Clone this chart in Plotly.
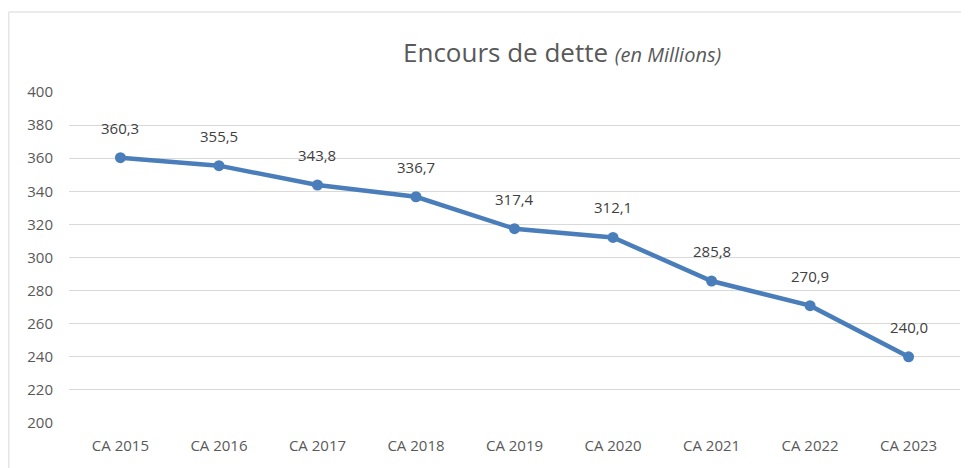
import plotly.graph_objects as go

years = ["CA 2015", "CA 2016", "CA 2017", "CA 2018", "CA 2019",
         "CA 2020", "CA 2021", "CA 2022", "CA 2023"]
encours = [360.3, 355.5, 343.8, 336.7, 317.4, 312.1, 285.8, 270.9, 240.0]
labels = [f"{v:.1f}".replace(".", ",") for v in encours]

line_color = "#4a7ebb"
text_color = "#595959"
font_family = "Open Sans, Liberation Sans, sans-serif"

fig = go.Figure()
fig.add_trace(go.Scatter(
    x=years, y=encours,
    mode="lines+markers",
    line=dict(color=line_color, width=4.5),
    marker=dict(color=line_color, size=11),
    hoverinfo="x+y",
    showlegend=False,
))

# data labels above each point
for x, y, t in zip(years, encours, labels):
    fig.add_annotation(x=x, y=y, text=t, showarrow=False, yshift=30,
                       font=dict(size=15, color="#404040", family=font_family))

# chart frame
fig.add_shape(type="rect", xref="paper", yref="paper",
              x0=-0.0675, x1=1.5, y0=-0.5, y1=1.2417,
              line=dict(color="#d9d9d9", width=1), fillcolor="rgba(0,0,0,0)")

fig.add_annotation(
    xref="paper", yref="paper", x=0.5533, y=1.121, yanchor="middle",
    showarrow=False,
    text="Encours de dette <i><span style='font-size:20px'>(en Millions)</span></i>",
    font=dict(size=26, color=text_color, family=font_family),
)

# page body has an 8px margin, so the figure is sized/offset to compensate
fig.update_layout(
    width=961, height=460,
    margin=dict(l=61, r=9, t=84, b=45),
    plot_bgcolor="white", paper_bgcolor="white",
    font=dict(family=font_family, color=text_color, size=13),
)
fig.update_xaxes(showgrid=False, showline=False, ticks="", ticklabelstandoff=12,
                 tickfont=dict(size=15, color=text_color))
fig.update_yaxes(range=[200, 400], dtick=20, showgrid=True, gridcolor="#d9d9d9",
                 gridwidth=1, zeroline=False, ticks="", ticklabelstandoff=15,
                 tickfont=dict(size=15, color=text_color))

fig.write_html("out.html")
